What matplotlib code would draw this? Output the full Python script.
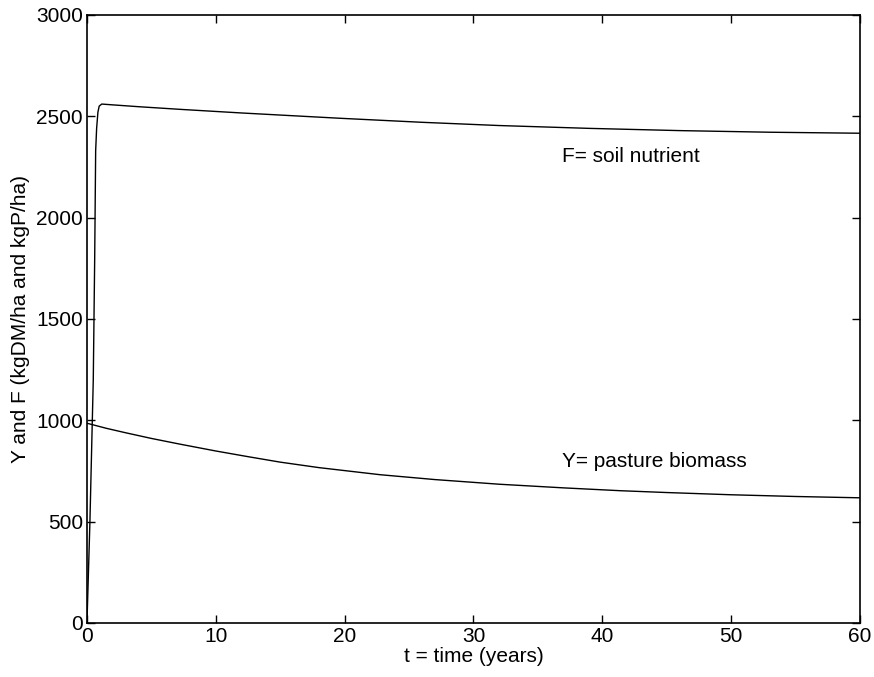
import matplotlib
matplotlib.use("agg")
import matplotlib.pyplot as plt

plt.rcParams["font.family"] = ["Liberation Sans", "DejaVu Sans"]

# values
t_F = [0, 0.23, 0.49, 0.6, 0.675, 0.75, 0.85, 0.95, 1.15, 2, 4, 7.2, 12, 19.6, 26, 32, 39, 46, 53, 60]
F = [0, 500, 1200, 1800, 2330, 2440, 2520, 2550, 2560, 2556, 2547, 2534, 2516, 2490, 2470, 2454, 2440, 2429, 2421, 2416]

t_Y = [0, 1.5, 3, 5, 7.2, 10, 12.5, 15, 18, 22.75, 27, 32, 37, 41.4, 45, 50, 55, 60]
Y = [985, 960, 938, 910, 882, 848, 820, 793, 766, 731, 707, 684, 666, 652, 643, 632, 623.5, 617]

x_ticks = [0, 10, 20, 30, 40, 50, 60]
y_ticks = [0, 500, 1000, 1500, 2000, 2500, 3000]

fig = plt.figure(figsize=(8.74, 6.77), dpi=100)
ax = fig.add_axes([0.0995, 0.08, 0.8845, 0.898])

ax.plot(t_F, F, color="black", lw=1.0)
ax.plot(t_Y, Y, color="black", lw=1.0)

ax.text(36.9, 2299, "F= soil nutrient", fontsize=15, va="center", ha="left")
ax.text(36.9, 794, "Y= pasture biomass", fontsize=15, va="center", ha="left")

ax.set_xlim(0, 60)
ax.set_ylim(0, 3000)
ax.set_xticks(x_ticks)
ax.set_yticks(y_ticks)
ax.tick_params(direction="in", length=6, width=1, top=True, right=True, labelsize=15, pad=3)
for s in ax.spines.values():
    s.set_linewidth(1.2)

ax.set_xlabel("t = time (years)", fontsize=15, labelpad=1)
ax.set_ylabel("Y and F (kgDM/ha and kgP/ha)", fontsize=15, labelpad=4)

fig.savefig("out.png", dpi=100)
plt.close(fig)
